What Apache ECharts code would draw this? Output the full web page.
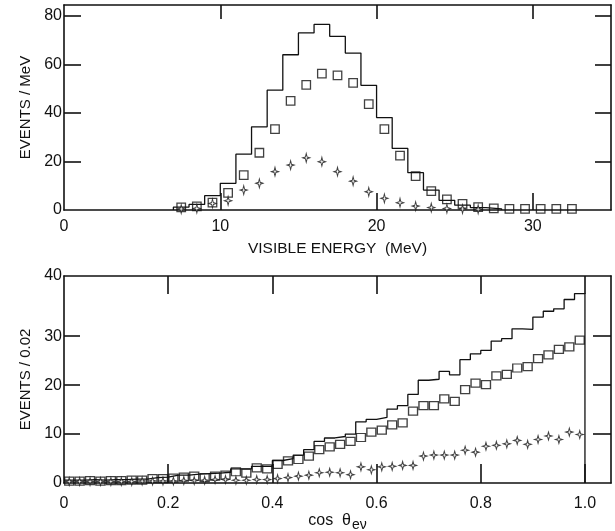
<!DOCTYPE html>
<html>
<head>
<meta charset="utf-8">
<script src="https://cdn.jsdelivr.net/npm/echarts@6/dist/echarts.min.js"></script>
<style>
html,body{margin:0;padding:0;background:#fff;}
#chart{width:615px;height:531px;}
</style>
</head>
<body>
<div id="chart"></div>
<script>
// ---------- Top panel: visible energy ----------
const energyBinLow = [7,8,9,10,11,12,13,14,15,16,17,18,19,20,21,22,23,24,25,26,27];
const energyBinWidth = 1;
const energyHist = [1.2,2.3,5.9,11.0,23.0,34.3,49.4,64.0,73.0,76.5,71.6,64.7,51.4,38.1,25.4,15.4,8.2,4.0,2.0,1.0,0.5];
const energySquareX = [7.5,8.5,9.5,10.5,11.5,12.5,13.5,14.5,15.5,16.5,17.5,18.5,19.5,20.5,21.5,22.5,23.5,24.5,25.5,26.5,27.5,28.5,29.5,30.5,31.5,32.5];
const energySquares = [1.1,1.5,3.0,7.1,14.4,23.6,33.3,45.0,51.6,56.2,55.5,52.4,43.6,33.3,22.4,14.0,7.8,4.4,2.5,1.2,0.7,0.5,0.5,0.5,0.5,0.5];
const energyStarX = [7.5,8.5,9.5,10.5,11.5,12.5,13.5,14.5,15.5,16.5,17.5,18.5,19.5,20.5,21.5,22.5,23.5,24.5,25.5,26.5];
const energyStars = [0.4,0.6,2.7,3.8,8.2,11.0,15.8,18.5,21.5,19.9,15.8,11.9,7.5,4.8,3.0,1.6,1.0,0.6,0.4,0.3];
const energyTicks = [10,20,30];
const energyLabels = [0,10,20,30];
const eventsMeVTicks = [20,40,60,80];
const eventsMeVLabels = [0,20,40,60,80];

// ---------- Bottom panel: cos theta ----------
const cosBinLow = [0.00,0.02,0.04,0.06,0.08,0.10,0.12,0.14,0.16,0.18,0.20,0.22,0.24,0.26,0.28,0.30,0.32,0.34,0.36,0.38,0.40,0.42,0.44,0.46,0.48,0.50,0.52,0.54,0.56,0.58,0.60,0.62,0.64,0.66,0.68,0.70,0.72,0.74,0.76,0.78,0.80,0.82,0.84,0.86,0.88,0.90,0.92,0.94,0.96,0.98];
const cosBinWidth = 0.02;
const cosCenters = [0.01,0.03,0.05,0.07,0.09,0.11,0.13,0.15,0.17,0.19,0.21,0.23,0.25,0.27,0.29,0.31,0.33,0.35,0.37,0.39,0.41,0.43,0.45,0.47,0.49,0.51,0.53,0.55,0.57,0.59,0.61,0.63,0.65,0.67,0.69,0.71,0.73,0.75,0.77,0.79,0.81,0.83,0.85,0.87,0.89,0.91,0.93,0.95,0.97,0.99];
const cosHist = [0.6,0.6,0.7,0.6,0.7,0.7,0.8,0.8,1.1,1.2, 1.6,1.6,1.8,1.9,2.0,2.2,2.9,2.9,3.4,3.4, 4.6,5.0,5.7,6.8,8.5,9.2,9.5,10.0,12.5,13.0, 13.4,15.1,15.8,18.1,21.0,21.2,22.8,22.1,25.2,26.4, 27.1,29.0,29.5,31.5,31.4,33.9,35.1,35.6,37.5,38.7];
const cosSquares = [0.4,0.4,0.5,0.4,0.5,0.5,0.6,0.6,0.9,0.9, 1.0,1.2,1.4,1.1,1.4,1.6,2.3,2.0,3.1,2.9, 3.8,4.5,4.8,5.5,6.8,7.4,7.9,8.5,9.3,10.4, 10.8,11.9,12.3,14.7,15.8,15.8,17.2,16.7,19.1,20.4, 20.1,21.9,22.2,23.5,23.8,25.4,26.2,27.3,27.8,29.2];
const cosStars = [0.3,0.3,0.3,0.3,0.3,0.3,0.3,0.4,0.4,0.4, 0.4,0.5,0.5,0.55,0.7,0.7,0.55,0.55,0.7,0.7, 0.9,1.1,1.4,1.6,2.1,2.2,2.1,1.7,3.3,2.7, 3.3,3.4,3.6,3.6,5.5,5.7,5.7,5.7,6.7,6.3, 7.5,7.7,8.0,8.7,7.9,8.9,9.6,8.9,10.4,9.9];
const cosTicks = [0.2,0.4,0.6,0.8,1.0];
const cosLabels = [0,0.2,0.4,0.6,0.8,1.0];
const events002Ticks = [10,20,30];
const events002Labels = [0,10,20,30];

// ---------- helpers ----------
function histPath(lows, width, vals, startFromZero) {
  const d = [];
  if (startFromZero) d.push([lows[0], 0]);
  for (let i = 0; i < lows.length; i++) {
    d.push([lows[i], vals[i]]);
    d.push([lows[i] + width, vals[i]]);
  }
  d.push([lows[lows.length - 1] + width, 0]);
  return d;
}
function pairs(xs, ys) { return xs.map((x, i) => [x, ys[i]]); }

const FONT = "'Liberation Sans', Arial, Helvetica, sans-serif";
const BLACK = '#111';
const LW = 1.6;
const starPath = 'path://M0,-10 L2,-2 L8,0 L2,2 L0,10 L-2,2 L-8,0 L-2,-2 Z';

function tick(len, vals) {
  return { show: true, inside: true, length: len, customValues: vals, lineStyle: { color: BLACK, width: LW } };
}
function frameAxis(opts) {
  return Object.assign({
    type: 'value',
    splitLine: { show: false },
    axisLine: { show: true, onZero: false, lineStyle: { color: BLACK, width: LW } },
    axisLabel: { show: false },
  }, opts);
}
const labelStyle = { color: BLACK, fontSize: 16, fontFamily: FONT };

const chart = echarts.init(document.getElementById('chart'), null, { renderer: 'canvas' });

const option = {
  animation: false,
  backgroundColor: '#fff',
  textStyle: { fontFamily: FONT },
  grid: [
    { left: 64, right: 4, top: 5, height: 205, outerBoundsMode: 'none', containLabel: false },
    { left: 64, right: 4, top: 276, height: 207, outerBoundsMode: 'none', containLabel: false }
  ],
  xAxis: [
    frameAxis({
      gridIndex: 0, position: 'bottom', min: 0, max: 35,
      axisTick: tick(17, energyTicks),
      axisLabel: Object.assign({ show: true, customValues: energyLabels, margin: 9 }, labelStyle),
      name: 'VISIBLE ENERGY  (MeV)', nameLocation: 'middle', nameGap: 31,
      nameTextStyle: { color: BLACK, fontSize: 15.5, fontFamily: FONT }
    }),
    frameAxis({ gridIndex: 0, position: 'top', min: 0, max: 35, axisTick: tick(14, energyTicks) }),
    frameAxis({
      gridIndex: 1, position: 'bottom', min: 0, max: 1.05,
      axisTick: tick(19, cosTicks),
      axisLabel: Object.assign({ show: true, customValues: cosLabels, margin: 13,
        formatter: v => (v === 0 ? '0' : v.toFixed(1)) }, labelStyle),
      name: '{a|cos  θ}{b|eν}', nameLocation: 'middle', nameGap: 27,
      nameTextStyle: {
        color: BLACK, fontFamily: FONT,
        rich: {
          a: { fontSize: 16, fontFamily: FONT, color: BLACK },
          b: { fontSize: 14, fontFamily: FONT, color: BLACK, padding: [8, 0, 0, 1] }
        }
      }
    }),
    frameAxis({ gridIndex: 1, position: 'top', min: 0, max: 1.05, axisTick: tick(18, cosTicks) })
  ],
  yAxis: [
    frameAxis({
      gridIndex: 0, position: 'left', min: 0, max: 84.5,
      axisTick: tick(17, eventsMeVTicks),
      axisLabel: Object.assign({ show: true, customValues: eventsMeVLabels, margin: 2 }, labelStyle),
      name: 'EVENTS / MeV', nameLocation: 'middle', nameGap: 31,
      nameTextStyle: { color: BLACK, fontSize: 15, fontFamily: FONT }
    }),
    frameAxis({ gridIndex: 0, position: 'right', min: 0, max: 84.5, axisTick: tick(16, eventsMeVTicks) }),
    frameAxis({
      gridIndex: 1, position: 'left', min: 0, max: 42.3,
      axisTick: tick(16, events002Ticks),
      axisLabel: Object.assign({ show: true, customValues: events002Labels, margin: 2 }, labelStyle),
      name: 'EVENTS / 0.02', nameLocation: 'middle', nameGap: 31,
      nameTextStyle: { color: BLACK, fontSize: 15, fontFamily: FONT }
    }),
    frameAxis({ gridIndex: 1, position: 'right', min: 0, max: 42.3, axisTick: tick(18, events002Ticks) }),
    {
      type: 'value', gridIndex: 1, position: 'left', min: 0, max: 40,
      splitLine: { show: false }, axisLine: { show: false }, axisTick: { show: false },
      axisLabel: Object.assign({ show: true, customValues: [40], margin: 2 }, labelStyle)
    }
  ],
  series: [
    {
      type: 'line', xAxisIndex: 0, yAxisIndex: 0, symbol: 'none', silent: true,
      data: histPath(energyBinLow, energyBinWidth, energyHist, true),
      lineStyle: { color: BLACK, width: 1.3 }, z: 2
    },
    {
      type: 'scatter', xAxisIndex: 0, yAxisIndex: 0, symbol: 'rect', symbolSize: [8.5, 8.5],
      data: pairs(energySquareX, energySquares),
      itemStyle: { color: 'rgba(255,255,255,0)', borderColor: BLACK, borderWidth: 1.3 }, z: 3
    },
    {
      type: 'scatter', xAxisIndex: 0, yAxisIndex: 0, symbol: starPath, symbolSize: [7, 9],
      data: pairs(energyStarX, energyStars),
      itemStyle: { color: '#fff', borderColor: BLACK, borderWidth: 1 }, z: 4
    },
    {
      type: 'line', xAxisIndex: 2, yAxisIndex: 2, symbol: 'none', silent: true,
      data: histPath(cosBinLow, cosBinWidth, cosHist, false),
      lineStyle: { color: BLACK, width: 1.3 }, z: 2
    },
    {
      type: 'scatter', xAxisIndex: 2, yAxisIndex: 2, symbol: 'rect', symbolSize: [9, 8],
      data: pairs(cosCenters, cosSquares),
      itemStyle: { color: 'rgba(255,255,255,0)', borderColor: BLACK, borderWidth: 1.3 }, z: 3
    },
    {
      type: 'scatter', xAxisIndex: 2, yAxisIndex: 2, symbol: starPath, symbolSize: [7, 8],
      data: pairs(cosCenters, cosStars),
      itemStyle: { color: '#fff', borderColor: BLACK, borderWidth: 1 }, z: 4
    }
  ]
};
chart.setOption(option);
</script>
</body>
</html>
